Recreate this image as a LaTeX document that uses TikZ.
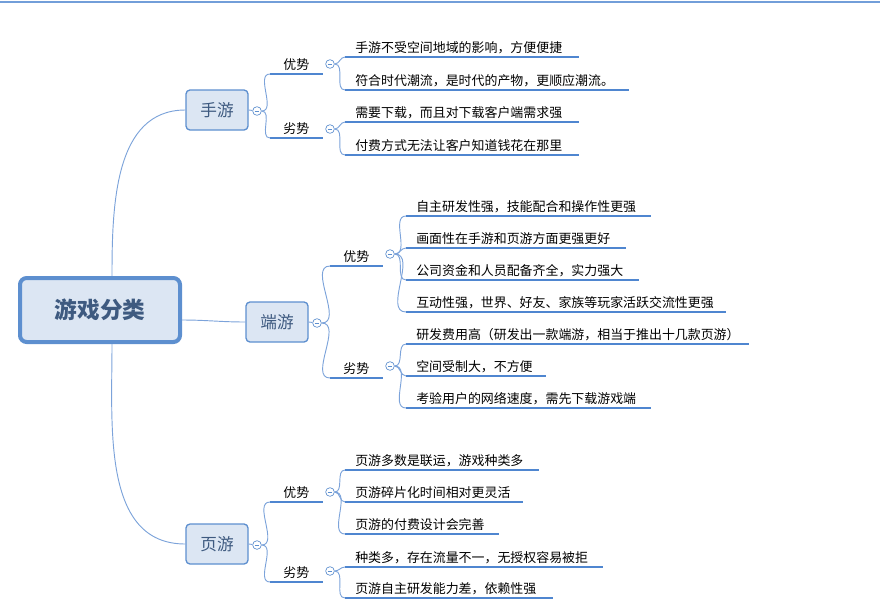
\documentclass[tikz,border=0pt]{standalone}
\usepackage{fontspec}
\setmainfont{Noto Sans CJK SC}
\definecolor{lineblue}{HTML}{4F86D0}
\definecolor{linkblue}{HTML}{7CA3DA}
\definecolor{boxfill}{HTML}{DCE6F3}
\definecolor{boxdraw}{HTML}{5D8FCF}
\definecolor{rootText}{HTML}{3E5A80}
\tikzset{
  leaf/.style={anchor=south west, inner xsep=7.5pt, inner ysep=2.5pt, align=left, font=\fontsize{9.7}{11}\selectfont},
  uline/.style={draw=lineblue, line width=1.6pt},
  side/.style={anchor=south west, inner xsep=0pt, inner ysep=2.5pt, align=center, font=\fontsize{9.7}{11}\selectfont},
  topic/.style={draw=boxdraw, fill=boxfill, rounded corners=3pt, line width=1pt, minimum width=46.5pt, minimum height=30pt, font=\fontsize{12.5}{14}\selectfont, text=rootText},
  fold/.style={circle, draw=boxdraw, fill=white, line width=0.5pt, minimum size=6.5pt, inner sep=0pt,
    path picture={\draw[boxdraw, line width=0.5pt] ([xshift=-1.8pt]path picture bounding box.center) -- ([xshift=1.8pt]path picture bounding box.center);}},
  link/.style={draw=linkblue, line width=0.7pt}
}
% name, x, y(underline), width, text
\newcommand\leafnode[5]{%
  \node[leaf, text width={(#4-20)*0.75pt}] (#1) at (#2,#3) {#5};
  \draw[uline] (#1.south west) -- (#1.south east);}
\newcommand\sidenode[4]{%
  \node[side, text width={52*0.75pt}] (#1) at (#2,#3) {#4};
  \draw[uline] (#1.south west) -- (#1.south east);}
\begin{document}
\begin{tikzpicture}[x=0.75pt, y=-0.75pt]
\useasboundingbox (0,0) rectangle (880,608);
\draw[draw=lineblue!80, line width=1.5pt] (0,2) -- (880,2);

% root and main branches
\node[draw=boxdraw, fill=boxfill, rounded corners=5pt, line width=3pt, minimum width=120pt, minimum height=48pt,
  font=\fontsize{17}{20}\selectfont\bfseries, text=rootText] (root) at (100,310) {游戏分类};
\node[topic] (sy) at (217,110) {手游};
\node[topic] (dy) at (277,322) {端游};
\node[topic] (yy) at (217,544) {页游};
\draw[link] (root.north) ++(12,0) to[out=90,in=180] (sy.west);
\draw[link] (root.east) ++(0,10) to[out=0,in=180] (dy.west);
\draw[link] (root.south) ++(12,0) to[out=-90,in=180] (yy.west);

\node[fold] (fsy) at (257,111) {};
\node[fold] (fdy) at (317,323) {};
\node[fold] (fyy) at (257,545) {};
\draw[link] (sy.east) -- (fsy);
\draw[link] (dy.east) -- (fdy);
\draw[link] (yy.east) -- (fyy);

% 手游
\sidenode{sya}{270}{74}{优势}
\sidenode{syb}{270}{138}{劣势}
\draw[link] (fsy.east) to[out=0,in=180] (sya.south west);
\draw[link] (fsy.east) to[out=0,in=180] (syb.south west);
\node[fold] (fsya) at (330,64) {};
\node[fold] (fsyb) at (330,129) {};
\leafnode{sy1}{345}{57}{233}{手游不受空间地域的影响，方便便捷}
\leafnode{sy2}{345}{90}{283}{符合时代潮流，是时代的产物，更顺应潮流。}
\leafnode{sy3}{345}{122}{233}{需要下载，而且对下载客户端需求强}
\leafnode{sy4}{345}{155}{233}{付费方式无法让客户知道钱花在那里}
\foreach \n in {sy1,sy2} \draw[link] (fsya.east) to[out=0,in=180] (\n.south west);
\foreach \n in {sy3,sy4} \draw[link] (fsyb.east) to[out=0,in=180] (\n.south west);

% 端游
\sidenode{dya}{330}{266}{优势}
\sidenode{dyb}{330}{378}{劣势}
\draw[link] (fdy.east) to[out=0,in=180] (dya.south west);
\draw[link] (fdy.east) to[out=0,in=180] (dyb.south west);
\node[fold] (fdya) at (390,254) {};
\node[fold] (fdyb) at (390,366) {};
\leafnode{dy1}{406}{216}{244}{自主研发性强，技能配合和操作性更强}
\leafnode{dy2}{406}{248}{219}{画面性在手游和页游方面更强更好}
\leafnode{dy3}{406}{280}{232}{公司资金和人员配备齐全，实力强大}
\leafnode{dy4}{406}{312}{319}{互动性强，世界、好友、家族等玩家活跃交流性更强}
\leafnode{dy5}{406}{344}{342}{研发费用高（研发出一款端游，相当于推出十几款页游）}
\leafnode{dy6}{406}{376}{139}{空间受制大，不方便}
\leafnode{dy7}{406}{408}{244}{考验用户的网络速度，需先下载游戏端}
\foreach \n in {dy1,dy2,dy3,dy4} \draw[link] (fdya.east) to[out=0,in=180] (\n.south west);
\foreach \n in {dy5,dy6,dy7} \draw[link] (fdyb.east) to[out=0,in=180] (\n.south west);

% 页游
\sidenode{yya}{270}{502}{优势}
\sidenode{yyb}{270}{582}{劣势}
\draw[link] (fyy.east) to[out=0,in=180] (yya.south west);
\draw[link] (fyy.east) to[out=0,in=180] (yyb.south west);
\node[fold] (fyya) at (330,492) {};
\node[fold] (fyyb) at (330,571) {};
\leafnode{yy1}{345}{470}{193}{页游多数是联运，游戏种类多}
\leafnode{yy2}{345}{502}{177}{页游碎片化时间相对更灵活}
\leafnode{yy3}{345}{534}{153}{页游的付费设计会完善}
\leafnode{yy4}{345}{567}{257}{种类多，存在流量不一，无授权容易被拒}
\leafnode{yy5}{345}{598}{207}{页游自主研发能力差，依赖性强}
\foreach \n in {yy1,yy2,yy3} \draw[link] (fyya.east) to[out=0,in=180] (\n.south west);
\foreach \n in {yy4,yy5} \draw[link] (fyyb.east) to[out=0,in=180] (\n.south west);
\end{tikzpicture}
\end{document}
